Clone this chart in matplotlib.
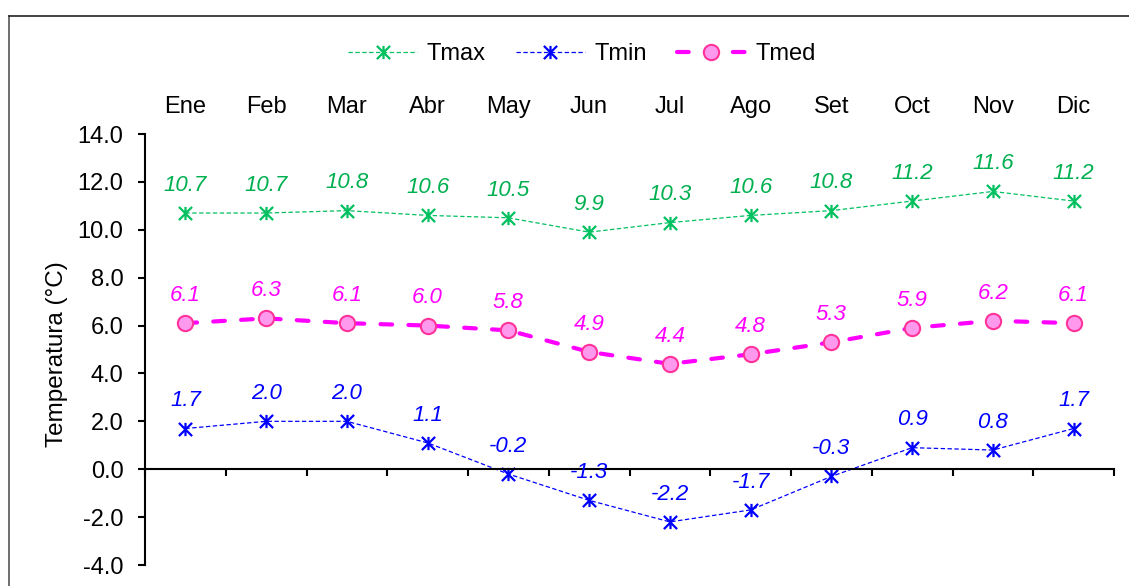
import numpy as np
import matplotlib
matplotlib.use("Agg")
import matplotlib.pyplot as plt
from matplotlib.path import Path
from matplotlib.lines import Line2D

plt.rcParams['font.family'] = ['Liberation Sans', 'DejaVu Sans']

months = ["Ene", "Feb", "Mar", "Abr", "May", "Jun", "Jul", "Ago", "Set", "Oct", "Nov", "Dic"]
tmax = [10.7, 10.7, 10.8, 10.6, 10.5, 9.9, 10.3, 10.6, 10.8, 11.2, 11.6, 11.2]
tmin = [1.7, 2.0, 2.0, 1.1, -0.2, -1.3, -2.2, -1.7, -0.3, 0.9, 0.8, 1.7]
tmed = [6.1, 6.3, 6.1, 6.0, 5.8, 4.9, 4.4, 4.8, 5.3, 5.9, 6.2, 6.1]
yticks = [-4, -2, 0, 2, 4, 6, 8, 10, 12, 14]

# asterisk marker: vertical bar plus an X
star = Path([(0, -1), (0, 1), (-1, -1), (1, 1), (-1, 1), (1, -1)],
            [Path.MOVETO, Path.LINETO, Path.MOVETO, Path.LINETO, Path.MOVETO, Path.LINETO])

W, H = 1129, 586
fig = plt.figure(figsize=(W / 100, H / 100), dpi=100)
ax = fig.add_axes([145 / W, 21 / H, (1114 - 145) / W, (565 - 134) / H])

x = np.arange(len(months))
green = "#00C060"
green_txt = "#00B050"
blue = "#0000FF"
magenta = "#FF00FF"

l1, = ax.plot(x, tmax, color=green, lw=0.9, dashes=(3.5, 2), marker=star,
              markersize=9.5, markeredgewidth=1.6, markeredgecolor=green, label="Tmax")
l2, = ax.plot(x, tmin, color=blue, lw=0.9, dashes=(3.5, 2), marker=star,
              markersize=9.5, markeredgewidth=1.6, markeredgecolor=blue, label="Tmin")
l3, = ax.plot(x, tmed, color=magenta, lw=3, dashes=(2.8, 3.9), dash_capstyle='round',
              marker='o', markersize=11, markerfacecolor="#FF99EE",
              markeredgecolor="#FF3399", markeredgewidth=1.5, label="Tmed", zorder=3)

for vals, col in ((tmax, green_txt), (tmin, blue), (tmed, magenta)):
    for xi, v in zip(x, vals):
        ax.annotate(f"{v:.1f}", (xi, v), xytext=(0, 16), textcoords="offset points",
                    ha="center", va="baseline", fontsize=16, style="italic", color=col)

ax.set_xlim(-0.5, len(months) - 0.5)
ax.set_ylim(-4, 14)
ax.set_yticks(yticks, labels=[f"{v:.1f}" for v in yticks])
ax.tick_params(axis='y', direction='out', length=5, width=1.5, pad=10.5, labelsize=17)

# category axis crosses at zero, with ticks at the category boundaries
ax.spines['bottom'].set_position(('data', 0))
ax.set_xticks(np.arange(-0.5, len(months), 1))
ax.tick_params(axis='x', direction='out', length=5, width=1.5, labelbottom=False)
for s in ('top', 'right'):
    ax.spines[s].set_visible(False)
for s in ('left', 'bottom'):
    ax.spines[s].set_linewidth(1.5)

sec = ax.secondary_xaxis('top')
sec.set_xticks(x, labels=months)
sec.tick_params(length=0, pad=11.5, labelsize=17)
sec.spines['top'].set_visible(False)

fig.text(57 / W, 1 - 354 / H, "Temperatura (°C)", rotation=90, ha="center",
         va="center", fontsize=17.5)

fig.legend(handles=[l1, l2, l3], loc="center", bbox_to_anchor=(582 / W, 1 - 54 / H),
           ncol=3, frameon=False, fontsize=17, handlelength=2.9, handletextpad=0.4,
           columnspacing=1.3, numpoints=1)

# chart frame
fig.add_artist(Line2D([9 / W, 9 / W], [0, 1 - 16 / H], transform=fig.transFigure,
                      color="#555555", lw=1.2))
fig.add_artist(Line2D([9 / W, 1], [1 - 16 / H, 1 - 16 / H], transform=fig.transFigure,
                      color="#222222", lw=1.2))

fig.savefig("out.png", dpi=100)
